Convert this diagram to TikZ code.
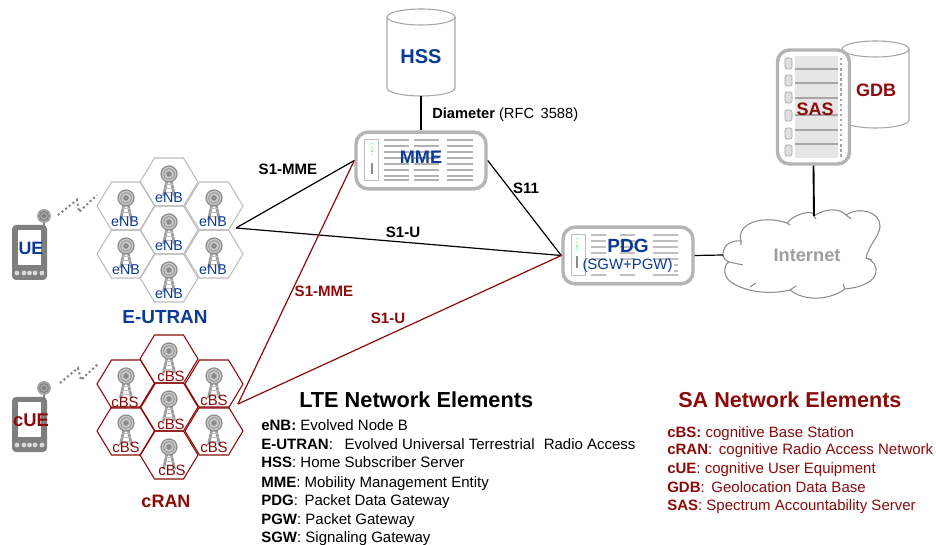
\documentclass[tikz,border=0pt]{standalone}
\usepackage{fontspec}
\setmainfont{Liberation Sans}
\definecolor{bluetxt}{HTML}{0B3A96}
\definecolor{redtxt}{HTML}{8B0A0A}
\definecolor{hexgrey}{HTML}{BDBDBD}
\definecolor{devgrey}{HTML}{B4B4B4}
\definecolor{phonegrey}{HTML}{7F7F7F}
\begin{document}
\begin{tikzpicture}[x=0.75pt,y=-0.75pt,
  hexcell/.style={line width=0.8pt,line join=miter},
  link/.style={line width=0.9pt,black},
  redlink/.style={line width=0.9pt,redtxt},
  dev/.style={draw=devgrey,line width=2.6pt,rounded corners=9pt,fill=white,inner sep=0pt},
  cyl/.style={draw=black!35,line width=0.8pt,fill=white},
  lab/.style={font=\bfseries\fontsize{11.3}{13}\selectfont,inner sep=0pt},
  ttl/.style={inner sep=0pt},
  legline/.style={anchor=base west,inner sep=0pt,font=\fontsize{11.25}{13}\selectfont}
]
\useasboundingbox (0,0) rectangle (936,545);
\newcommand{\hexat}[3]{%
  \draw[hexcell,draw=#3] (#1-29,#2) -- (#1-14.5,#2-24) -- (#1+14.5,#2-24) -- (#1+29,#2) -- (#1+14.5,#2+24) -- (#1-14.5,#2+24) -- cycle;}
\newcommand{\tower}[2]{%
  \fill[black!38] (#1-7,#2+22) -- (#1-1.6,#2-1) -- (#1+1.6,#2-1) -- (#1+7,#2+22) -- (#1+4,#2+22) -- (#1,#2+3) -- (#1-4,#2+22) -- cycle;
  \draw[black!25,line width=0.6pt] (#1-3.5,#2+10) -- (#1+3.5,#2+10) (#1-4.5,#2+14) -- (#1+4.5,#2+14) (#1-5,#2+18) -- (#1+5,#2+18);
  \fill[black!22] (#1,#2) circle[radius=8];
  \draw[black!45,line width=0.9pt] (#1,#2) circle[radius=8];
  \draw[black!40,line width=0.7pt] (#1,#2) circle[radius=5.5];
  \fill[black!45] (#1,#2) circle[radius=2.8];}
\newcommand{\phone}[2]{%
  \draw[phonegrey,line width=2pt] (#1+32,#2+2) -- (#1+32,#2-6);
  \fill[black!35] (#1+32,#2-9) circle[radius=7];
  \draw[phonegrey,line width=0.7pt] (#1+32,#2-9) circle[radius=4.5];
  \fill[phonegrey] (#1+32,#2-9) circle[radius=2];
  \fill[phonegrey,rounded corners=3pt] (#1,#2) rectangle (#1+35,#2+55);
  \fill[white] (#1+6,#2+5) rectangle (#1+29,#2+40);
  \foreach \k in {5,12,17.5,23,30} {\fill[white!85!black] (#1+\k,#2+48) circle[radius=2.4];}}
\newcommand{\cylpath}[4]{%
  \draw[cyl] (#1,#3) -- (#1,#4) arc[start angle=180,end angle=0,x radius=(#2-#1)/2,y radius=8] -- (#2,#3) arc[start angle=0,end angle=-180,x radius=(#2-#1)/2,y radius=8] -- cycle;
  \draw[cyl,fill=none] (#1,#3) arc[start angle=180,end angle=0,x radius=(#2-#1)/2,y radius=8];}
% HSS
\cylpath{387}{455}{17}{88}
\node[minimum width=51pt,minimum height=58.5pt,inner sep=0pt,font=\bfseries\fontsize{15}{18}\selectfont,text=bluetxt] (hss) at (421,57) {HSS};
% GDB
\cylpath{842}{909}{49}{120}
\node[font=\bfseries\fontsize{13.5}{16}\selectfont,text=redtxt,inner sep=0pt] (gdb) at (876,90) {GDB};
% MME
\node[dev,minimum width=97.5pt,minimum height=42.5pt] (mme) at (421,160.5) {};
\draw[black!25,line width=0.6pt] (364,139) rectangle (378,180);
\foreach \yy in {140,146,152,158,164,170,176,180} {\draw[black!30,line width=1.1pt] (384,\yy) -- (409,\yy) (414,\yy) -- (439,\yy) (447,\yy) -- (473,\yy);}
\draw[green!50!white,line width=0.8pt,dotted] (372,143) -- (372,157);
\draw[black!45,line width=0.8pt] (372,163) -- (372,174);
\node[font=\bfseries\fontsize{13.6}{16}\selectfont,text=bluetxt,inner sep=0pt] at (421,157) {MME};
% PDG
\node[dev,minimum width=97.5pt,minimum height=42.5pt] (pdg) at (628,255.5) {};
\draw[black!25,line width=0.6pt] (571,234) rectangle (585,275);
\foreach \yy in {235,241,247,253,259,265,271,275} {\draw[black!25,line width=1.1pt] (591,\yy) -- (606,\yy) (620,\yy) -- (635,\yy) (653,\yy) -- (678,\yy);}
\draw[green!50!white,line width=0.8pt,dotted] (577,238) -- (577,251);
\draw[black!45,line width=0.8pt] (577,256) -- (577,268);
\fill[white] (590,261) rectangle (674,273);
\node[font=\bfseries\fontsize{14.3}{17}\selectfont,text=bluetxt,inner sep=0pt] at (628,246) {PDG};
\node[font=\fontsize{11.2}{13}\selectfont,text=bluetxt,inner sep=0pt] at (627.5,266) {(SGW+PGW)};
% SAS
\node[dev,minimum width=54pt,minimum height=85.5pt] (sas) at (813.5,107) {};
\fill[black!10] (795,56) rectangle (838,158);
\foreach \yy in {69,83,98,115,130,144} {\draw[black!35,line width=0.9pt] (795,\yy) -- (838,\yy);}
\foreach \yy in {58,75,92,110,128,145} {\fill[black!12,draw=black!35,line width=0.5pt,rounded corners=1.5pt] (785,\yy) rectangle (792,\yy+11);}
\draw[black!35,line width=1.8pt,dotted] (841,58) -- (841,157);
\node[font=\bfseries\fontsize{13.5}{16}\selectfont,text=redtxt,inner sep=0pt] at (815,109) {SAS};
% Internet cloud
\draw[black!45,line width=0.8pt,fill=white] (723,254)
  .. controls (723,244) and (733,240) .. (741,241)
  .. controls (736,225) and (760,214) .. (787,223)
  .. controls (795,213) and (815,209) .. (814,216)
  .. controls (825,208) and (840,208) .. (846,215)
  .. controls (860,206) and (880,212) .. (880,226)
  .. controls (880,236) and (868,246) .. (866,258)
  .. controls (880,262) and (885,285) .. (845,289)
  .. controls (830,300) and (805,302) .. (790,290)
  .. controls (770,295) and (745,292) .. (731,282)
  .. controls (722,276) and (724,264) .. (729,262)
  .. controls (725,260) and (723,258) .. (723,254) -- cycle;
\draw[black!45,line width=0.8pt] (741,241) -- (741,245) (787,223) -- (790,225) (814,216) -- (816,219) (846,215) -- (851,219) (866,258) -- (872,260) (845,289) -- (843,284) (790,290) -- (796,286) (743,265) -- (729,262) (750,287) -- (756,283);
\node[font=\bfseries\fontsize{13.7}{16}\selectfont,text=black!38,inner sep=0pt] (internet) at (807,255) {Internet};
% Cells
\coordinate (ehub) at (236,228);
\coordinate (chub) at (238,404);
\foreach \cx/\cy/\lx in {169/182/169,126/206/125,214/206/213,169/230/169,126/254/126,214/254/213,169/278/169} {
  \hexat{\cx}{\cy}{hexgrey}
  \tower{\cx}{\cy-8}
  \node[font=\fontsize{10.7}{12}\selectfont,text=bluetxt,inner sep=0pt] at (\lx,\cy+16) {eNB};
}
\foreach \cx/\cy/\lx/\dy in {169/359/171/17,126/384/125/18,214/384/214/16,169/407/171/17,126/431/126/16,214/431/214/16,169/455/172/15} {
  \hexat{\cx}{\cy}{redtxt}
  \tower{\cx}{\cy-8}
  \node[font=\fontsize{11.2}{13}\selectfont,text=redtxt,inner sep=0pt] at (\lx,\cy+\dy) {cBS};
}
\node[ttl,text=bluetxt,font=\bfseries\fontsize{14.2}{17}\selectfont] at (165,317) {E-UTRAN};
\node[ttl,text=redtxt,font=\bfseries\fontsize{13.5}{16}\selectfont] at (166,501) {cRAN};
% Phones
\phone{12}{225}
\phone{12}{397}
\node[font=\bfseries\fontsize{13.4}{16}\selectfont,text=bluetxt,inner sep=0pt] (ue) at (31,248) {UE};
\node[font=\bfseries\fontsize{13.8}{16}\selectfont,text=redtxt,inner sep=0pt] (cue) at (31,420) {cUE};
\draw[black!50,line width=1.5pt,dotted] (58,215) -- (77,200) -- (79,212) -- (97,195);
\draw[black!50,line width=1.5pt,dotted] (60,383) -- (78,368) -- (81,380) -- (99,363);
% Links
\draw[link] (hss.south) -- (mme.north);
\draw[link] (ehub) -- (mme.west);
\draw[link] (ehub) -- (pdg.west);
\draw[link] (mme.east) -- (pdg.west);
\draw[redlink] (chub) -- (mme.west);
\draw[redlink] (chub) -- (pdg.west);
\draw[link] (pdg.east) -- (723,255);
\draw[link,line width=1.4pt] (sas.south) -- (814,216);
% Labels on links
\node[lab,anchor=west,font=\bfseries\fontsize{11}{13}\selectfont] at (432,115) {Diameter \fontseries{m}\selectfont (RFC\, 3588)};
\node[lab] at (288,169) {S1-MME};
\node[lab] at (526,188) {S11};
\node[lab] at (403,232) {S1-U};
\node[lab,text=redtxt] at (324,291) {S1-MME};
\node[lab,text=redtxt] at (388,318) {S1-U};
% Legends
\node[anchor=west,inner sep=0pt,font=\bfseries\fontsize{16.3}{19}\selectfont] at (299,400) {LTE Network Elements};
\node[legline] at (261,431) {\textbf{eNB:} Evolved Node B};
\node[legline] at (261,450) {\textbf{E-UTRAN}:\,\,\, Evolved Universal Terrestrial\,\, Radio Access};
\node[legline] at (261,468) {\textbf{HSS}: Home Subscriber Server};
\node[legline] at (261,487) {\textbf{MME}: Mobility Management Entity};
\node[legline] at (261,505) {\textbf{PDG}:\, Packet Data Gateway};
\node[legline] at (261,524) {\textbf{PGW}: Packet Gateway};
\node[legline] at (261,542) {\textbf{SGW}: Signaling Gateway};
\node[anchor=west,inner sep=0pt,text=redtxt,font=\bfseries\fontsize{16.2}{19}\selectfont] at (678,400) {SA Network Elements};
\node[legline,text=redtxt] at (667,437) {\textbf{cBS:} cognitive Base Station};
\node[legline,text=redtxt] at (667,455) {\textbf{cRAN}:\, cognitive Radio Access Network};
\node[legline,text=redtxt] at (667,474) {\textbf{cUE}: cognitive User Equipment};
\node[legline,text=redtxt] at (667,492) {\textbf{GDB}:\, Geolocation Data Base};
\node[legline,text=redtxt] at (667,510) {\textbf{SAS}: Spectrum Accountability Server};
\end{tikzpicture}
\end{document}
